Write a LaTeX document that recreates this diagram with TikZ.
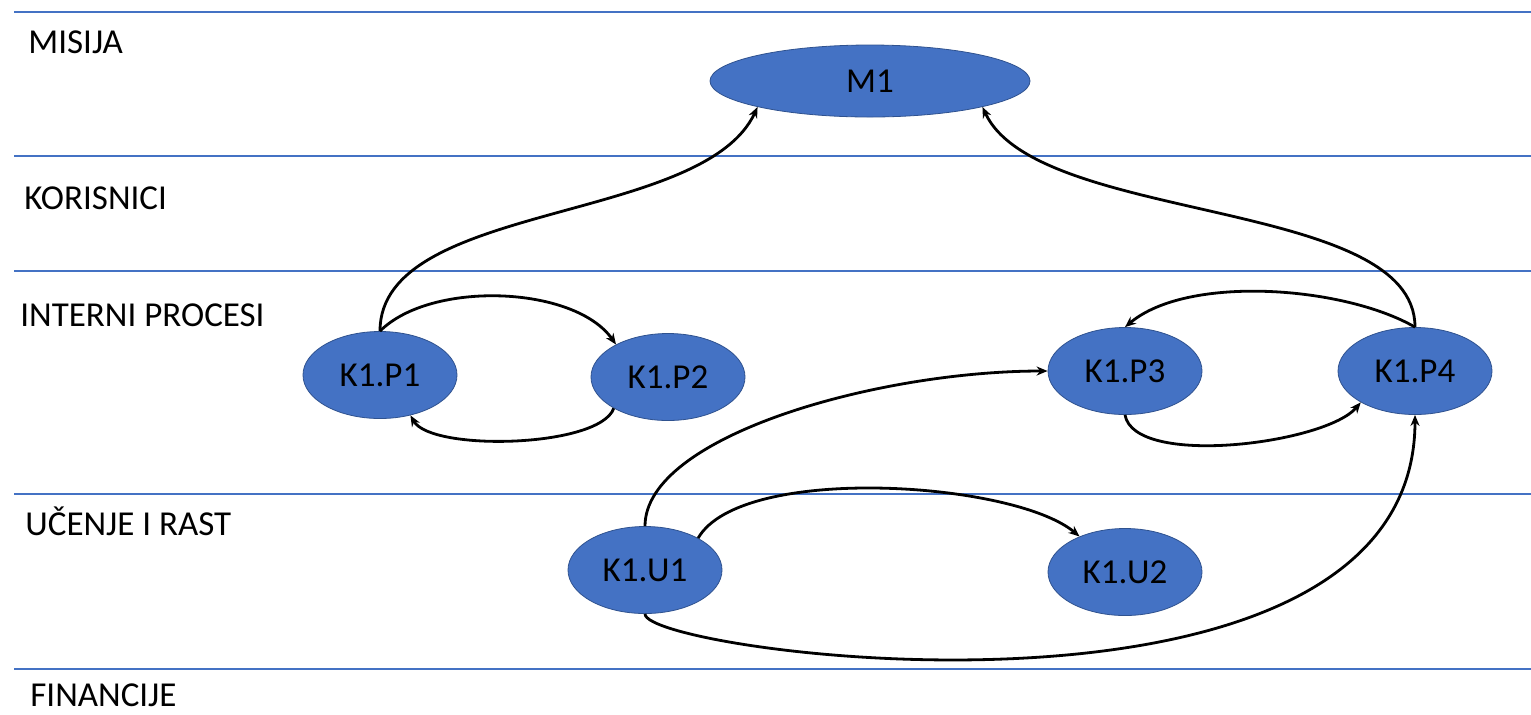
\documentclass[tikz,border=0pt]{standalone}
\usepackage{fontspec}
\setmainfont{Carlito}
\usetikzlibrary{shapes.geometric,arrows.meta}
\definecolor{lanecol}{RGB}{68,114,196}
\definecolor{goalfill}{RGB}{68,114,196}
\definecolor{goaledge}{RGB}{47,82,143}
\begin{document}
\begin{tikzpicture}[x=0.5pt,y=0.5pt,yscale=-1,xscale=1,
    lane/.style={draw=lanecol,line width=0.8pt},
    lanetext/.style={anchor=base west,inner sep=0pt,font=\fontsize{17.5}{21}\selectfont},
    goal/.style={ellipse,draw=goaledge,line width=0.4pt,fill=goalfill,inner sep=0pt,
      minimum width=77pt,minimum height=43.5pt,font=\fontsize{17.5}{21}\selectfont},
    link/.style={line width=1.4pt,-{Stealth[length=5.5pt,width=4.5pt]}}]
    \useasboundingbox (0,0) rectangle (1531,714);

    %Straight Lines: perspective borders
    \draw [lane] (14,12) -- (1531,12) ;
    \draw [lane] (14,156) -- (1531,156) ;
    \draw [lane] (14,271) -- (1531,271) ;
    \draw [lane] (14,494) -- (1531,494) ;
    \draw [lane] (14,669) -- (1531,669) ;

    % Text Node
    \node [lanetext] (misija) at (28,53) {MISIJA};
    % Text Node
    \node [lanetext] (korisnici) at (24,209) {KORISNICI};
    % Text Node
    \node [lanetext] (interni) at (20,326) {INTERNI PROCESI};
    % Text Node
    \node [lanetext] (ucenje) at (25,535) {UČENJE I RAST};
    % Text Node
    \node [lanetext] (financije) at (30,706) {FINANCIJE};

    %Shape: Ellipse
    \node [goal,minimum width=160pt,minimum height=36pt] (m1) at (870,81) {M1};
    \node [goal] (p1) at (380,375) {K1.P1};
    \node [goal] (p2) at (668,377) {K1.P2};
    \node [goal] (p3) at (1125,371) {K1.P3};
    \node [goal] (p4) at (1415,371) {K1.P4};
    \node [goal] (u1) at (645,570) {K1.U1};
    \node [goal] (u2) at (1125,572) {K1.U2};

    %Curve Lines (angles are flipped by yscale=-1)
    \draw [link] (p1.north) to [out=-90,in=115,distance=65pt] (m1.193) ;
    \draw [link] (p4.north) to [out=-90,in=65,distance=65pt] (m1.-13) ;
    \draw [link] (p1.north) to [out=-45,in=-125,distance=36pt] (p2.148) ;
    \draw [link] (p2.210) to [out=110,in=60,distance=21pt] (p1.-53) ;
    \draw [link] (p4.north) to [out=-150,in=-40,distance=41pt] (p3.north) ;
    \draw [link] (p3.south) to [out=80,in=130,distance=27pt] (p4.210) ;
    \draw [link] (u1.north) to [out=-90,in=180,out distance=45pt,in distance=85pt] (p3.west) ;
    \draw [link] (u1.31) to [out=-60,in=-140,distance=43pt] (u2.142) ;
    \draw [link] (u1.south) to [out=90,in=90,out distance=20pt,in distance=170pt] (p4.south) ;

\end{tikzpicture}
\end{document}
